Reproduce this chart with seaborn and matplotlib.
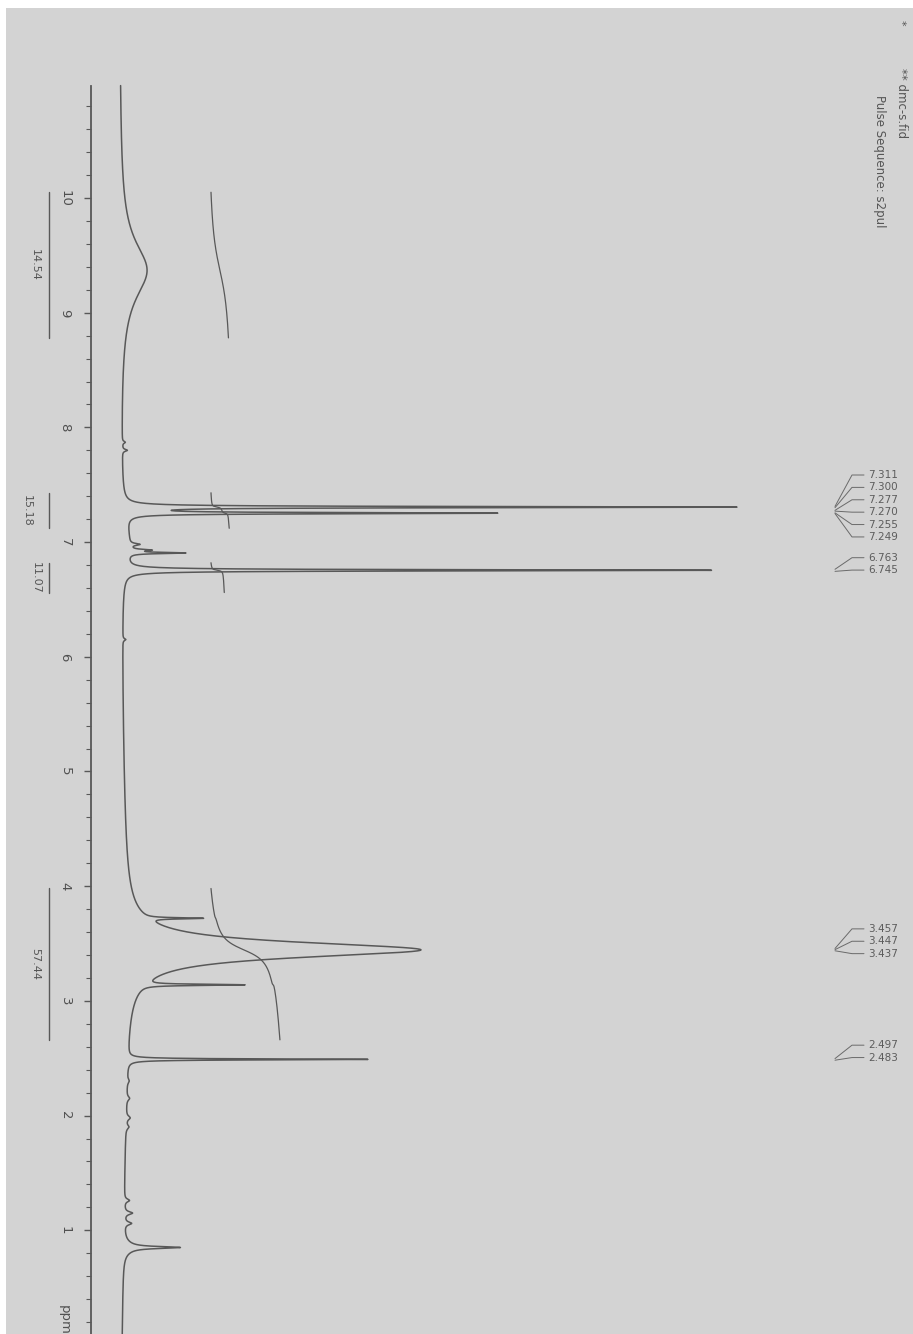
import numpy as np
import pandas as pd
import matplotlib
matplotlib.use("Agg")
import matplotlib.pyplot as plt
import seaborn as sns
from matplotlib.ticker import FixedLocator

# peak list: shift (ppm), height (a.u.), half width at half height (ppm)
peak_ppm = [9.37, 7.87, 7.80, 7.305, 7.252, 7.00, 6.98, 6.93, 6.905, 6.754, 6.15,
            3.72, 3.445, 3.14, 3.00, 2.490, 2.30, 2.15, 1.98, 1.90, 1.26, 1.15, 1.06, 0.85, 0.85]
peak_height = [27, 3, 5, 608, 365, 7, 10, 20, 55, 586, 3,
               55, 295, 100, 7, 240, 2, 3, 4, 3, 5, 8, 7, 49, 8]
peak_hwhm = [0.30, 0.01, 0.01, 0.006, 0.006, 0.25, 0.01, 0.008, 0.006, 0.006, 0.01,
             0.006, 0.08, 0.006, 2.5, 0.005, 0.02, 0.02, 0.02, 0.02, 0.015, 0.015, 0.015, 0.010, 0.06]

# integration regions (ppm from, ppm to) and printed integrals
int_start = [10.05, 7.43, 6.82, 3.98]
int_end = [8.78, 7.12, 6.56, 2.66]
int_values = [14.54, 15.18, 11.07, 57.44]

# peak picking labels, grouped as printed on the right margin
label_groups = [["7.311", "7.300", "7.277", "7.270", "7.255", "7.249"],
                ["6.763", "6.745"],
                ["3.457", "3.447", "3.437"],
                ["2.497", "2.483"]]

tick_labels = ["1", "2", "3", "4", "5", "6", "7", "8", "9", "10"]

# ---- spectrum from the peak list (Lorentzian lines) ----
ppm = np.arange(10.98, -0.01, -0.0005)
intensity = np.zeros_like(ppm)
for c, h, w in zip(peak_ppm, peak_height, peak_hwhm):
    intensity += h * w**2 / ((ppm - c)**2 + w**2)
spec = pd.DataFrame({"ppm": ppm, "intensity": intensity})

bg = "#d3d3d3"
ink = "#585858"

sns.set_style("white")
plt.rcParams["font.family"] = ["DejaVu Sans"]

fig = plt.figure(figsize=(9.13, 13.34), dpi=100, facecolor="white")
ax = fig.add_axes([6 / 913, 0, 907 / 913, 1326 / 1334])
ax.set_facecolor(bg)

# 114.7 px per ppm, 10 ppm at pixel row 198
ax.set_ylim(10 - (1334 - 198) / 114.7, 10 + (198 - 8) / 114.7)
ax.set_xlim(-113, 794)

sns.lineplot(data=spec, x="intensity", y="ppm", orient="y", estimator=None,
             color=ink, linewidth=1.1, ax=ax)

# integral traces
int_offset = 92
int_scale = 1.2
for a, b, val in zip(int_start, int_end, int_values):
    seg = spec[(spec.ppm <= a) & (spec.ppm >= b)]
    cum = np.cumsum(seg.intensity.values)
    cum = cum / cum[-1] * val * int_scale + int_offset
    sns.lineplot(x=cum, y=seg.ppm.values, orient="y", estimator=None,
                 color=ink, linewidth=0.9, ax=ax)

# integration bars and values at the left margin
label_x = [-84, -92, -83, -84]
for a, b, val, lx in zip(int_start, int_end, int_values, label_x):
    ax.plot([-70, -70], [b, a], color=ink, lw=1.0)
    ax.text(lx, (a + b) / 2, f"{val:.2f}", rotation=-90, ha="center", va="center",
            fontsize=8, color="#555555")

# peak labels with connector lines
spacing = 0.108
group_peak = [[7.311, 7.300, 7.277, 7.270, 7.255, 7.249], [6.763, 6.745],
              [3.457, 3.447, 3.437], [2.497, 2.483]]
group_center = [7.315, 6.81, 3.52, 2.56]
for labels, peaks, cen in zip(label_groups, group_peak, group_center):
    n = len(labels)
    for i, (lab, pk) in enumerate(zip(labels, peaks)):
        ly = cen - (i - (n - 1) / 2) * spacing
        ax.plot([716, 733, 745], [pk, ly, ly], color="#6a6a6a", lw=0.7)
        ax.text(749, ly, lab, ha="left", va="center", fontsize=7.5, color="#5c5c5c")

# header text
ax.text(782, 11.526, "*", rotation=-90, ha="center", va="center", fontsize=8, color="#555555")
ax.text(782, 11.13, "** dmc-s.fid", rotation=-90, ha="center", va="top", fontsize=8.5,
        color="#555555")
ax.text(760, 10.90, "Pulse Sequence: s2pul", rotation=-90, ha="center", va="top",
        fontsize=8.5, color="#555555")

# ppm axis drawn as the left spine
for s in ["top", "right", "bottom"]:
    ax.spines[s].set_visible(False)
ax.spines["left"].set_position(("data", -28))
ax.spines["left"].set_bounds(-0.5, 10.98)
ax.spines["left"].set_color(ink)
ax.spines["left"].set_linewidth(1.3)
ax.set_xticks([])
ax.yaxis.set_major_locator(FixedLocator(range(1, 11)))
ax.yaxis.set_minor_locator(FixedLocator(np.arange(0.2, 10.9, 0.2)))
ax.set_yticklabels(tick_labels)
ax.tick_params(axis="y", which="both", left=True, right=False)
ax.tick_params(axis="y", which="major", direction="out", length=5, width=1.0,
               color=ink, labelcolor="#505050", labelsize=9.5, pad=9, labelrotation=-90)
ax.tick_params(axis="y", which="minor", direction="out", length=3.5, width=0.8, color=ink)
for t in ax.get_yticklabels():
    t.set_va("center")
ax.set_ylabel("")
ax.set_xlabel("")
ax.text(-55, 0.35, "ppm", rotation=-90, ha="center", va="top", fontsize=9.5, color="#505050")

fig.savefig("out.png", dpi=100, facecolor="white")
